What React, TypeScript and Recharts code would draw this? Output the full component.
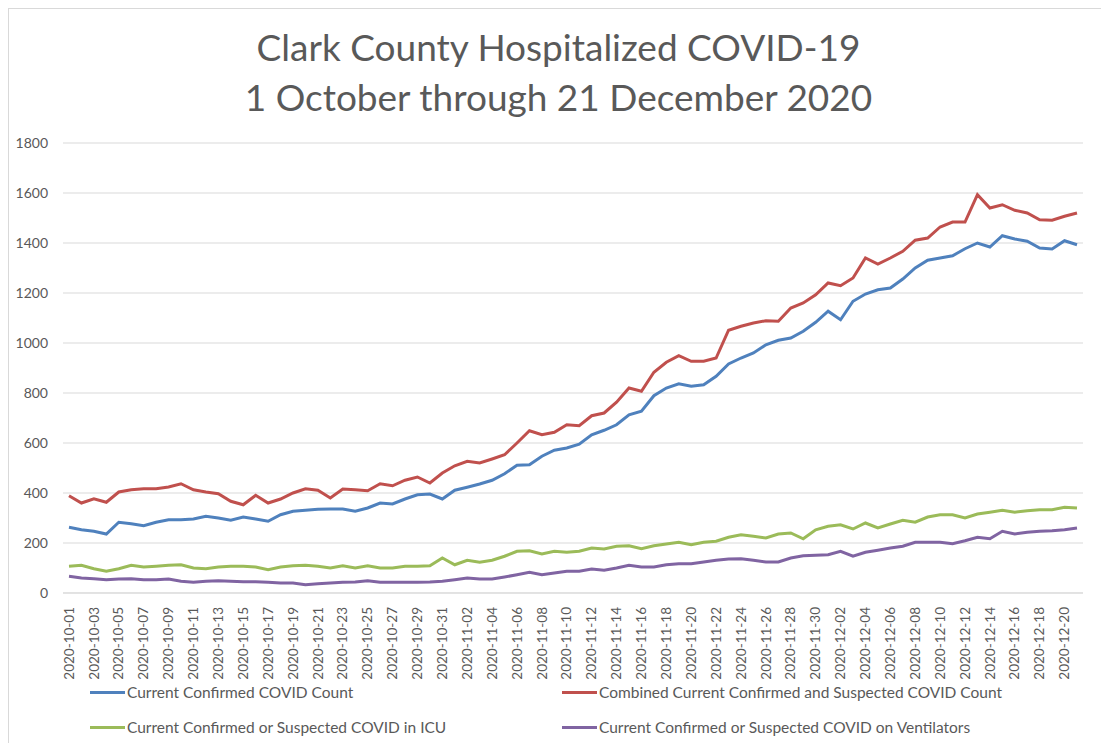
import React from "react";
import { LineChart, Line, XAxis, YAxis, CartesianGrid, Legend } from "recharts";

const dates: string[] = [
  "2020-10-01","2020-10-02","2020-10-03","2020-10-04","2020-10-05","2020-10-06","2020-10-07","2020-10-08","2020-10-09","2020-10-10",
  "2020-10-11","2020-10-12","2020-10-13","2020-10-14","2020-10-15","2020-10-16","2020-10-17","2020-10-18","2020-10-19","2020-10-20",
  "2020-10-21","2020-10-22","2020-10-23","2020-10-24","2020-10-25","2020-10-26","2020-10-27","2020-10-28","2020-10-29","2020-10-30",
  "2020-10-31",
  "2020-11-01","2020-11-02","2020-11-03","2020-11-04","2020-11-05","2020-11-06","2020-11-07","2020-11-08","2020-11-09","2020-11-10",
  "2020-11-11","2020-11-12","2020-11-13","2020-11-14","2020-11-15","2020-11-16","2020-11-17","2020-11-18","2020-11-19","2020-11-20",
  "2020-11-21","2020-11-22","2020-11-23","2020-11-24","2020-11-25","2020-11-26","2020-11-27","2020-11-28","2020-11-29","2020-11-30",
  "2020-12-01","2020-12-02","2020-12-03","2020-12-04","2020-12-05","2020-12-06","2020-12-07","2020-12-08","2020-12-09","2020-12-10",
  "2020-12-11","2020-12-12","2020-12-13","2020-12-14","2020-12-15","2020-12-16","2020-12-17","2020-12-18","2020-12-19","2020-12-20",
  "2020-12-21",
];

const confirmed: number[] = [
  263,253,247,236,283,277,269,283,293,293,
  296,307,300,291,304,296,287,313,327,331,
  335,336,336,327,340,360,356,376,393,396,
  376,
  411,423,436,451,477,511,513,547,571,580,
  595,633,651,673,713,727,789,820,837,827,
  833,867,916,940,960,993,1011,1020,1047,1083,
  1127,1093,1167,1196,1213,1220,1256,1300,1331,1340,
  1349,1377,1400,1384,1429,1416,1407,1380,1376,1409,
  1393,
];

const combined: number[] = [
  389,360,377,363,404,413,417,417,424,437,
  413,404,397,367,353,391,360,376,400,417,
  411,380,416,413,409,437,429,451,464,440,
  480,
  509,527,520,536,553,600,649,633,643,673,
  669,709,720,763,820,807,883,923,949,927,
  927,940,1051,1067,1080,1089,1087,1140,1160,1193,
  1240,1229,1260,1340,1316,1340,1367,1411,1420,1464,
  1484,1484,1593,1540,1553,1531,1520,1493,1491,1507,
  1520,
];

const icu: number[] = [
  107,111,97,87,97,111,104,107,111,113,
  100,97,104,107,107,104,93,104,109,111,
  107,100,109,100,109,100,100,107,107,109,
  140,
  113,131,123,131,147,167,169,156,167,163,
  167,180,176,187,189,177,189,196,203,193,
  203,207,223,233,227,220,236,240,217,253,
  267,273,256,280,260,276,291,283,304,313,
  313,300,316,323,331,323,329,333,333,343,
  340,
];

const ventilators: number[] = [
  67,60,57,53,56,57,53,53,56,47,
  43,47,49,47,45,45,43,40,40,33,
  37,40,43,44,49,43,43,43,43,44,
  47,
  53,60,56,56,64,73,83,73,80,87,
  87,96,91,100,111,104,104,113,117,117,
  124,131,136,137,131,124,124,140,149,151,
  153,167,147,163,171,180,187,203,203,203,
  197,209,223,217,247,236,243,247,249,253,
  260,
];

const yTicks: number[] = [0, 200, 400, 600, 800, 1000, 1200, 1400, 1600, 1800];

const seriesInfo = [
  { key: "confirmed", name: "Current Confirmed COVID Count", color: "#4F81BD" },
  { key: "combined", name: "Combined Current Confirmed and Suspected COVID Count", color: "#C0504D" },
  { key: "icu", name: "Current Confirmed or Suspected COVID in ICU", color: "#9BBB59" },
  { key: "ventilators", name: "Current Confirmed or Suspected COVID on Ventilators", color: "#8064A2" },
];

const data = dates.map((d, i) => ({
  date: d,
  confirmed: confirmed[i],
  combined: combined[i],
  icu: icu[i],
  ventilators: ventilators[i],
}));

const FONT = "Lato, 'Open Sans', sans-serif";
const TEXT = "#595959";

const XTick = (props: any) => {
  const { x, y, payload } = props;
  const ty = y + 6;
  return (
    <text
      x={x}
      y={ty}
      transform={`rotate(-90 ${x} ${ty})`}
      textAnchor="end"
      dy="0.35em"
      fill={TEXT}
      fontSize={13.5}
      fontFamily={FONT}
    >
      {payload.value}
    </text>
  );
};

const LegendContent = () => {
  const cols = [82, 554];
  const rows = [19, 54];
  return (
    <div style={{ position: "relative", width: 1101, height: 70, fontFamily: FONT }}>
      {seriesInfo.map((s, i) => {
        const left = cols[i % 2];
        const top = rows[Math.floor(i / 2)];
        return (
          <div
            key={s.key}
            style={{
              position: "absolute",
              left,
              top: top - 10,
              height: 20,
              display: "flex",
              alignItems: "center",
              whiteSpace: "nowrap",
            }}
          >
            <div style={{ width: 35, height: 3, background: s.color, marginRight: 2 }} />
            <span style={{ fontSize: 15.5, color: TEXT }}>{s.name}</span>
          </div>
        );
      })}
    </div>
  );
};

export default function App() {
  return (
    <div
      style={{
        position: "relative",
        width: 1101,
        height: 735,
        boxShadow: "inset 1px 1px 0 #d9d9d9",
        background: "#fff",
      }}
    >
      <div
        style={{
          position: "absolute",
          top: 14,
          left: 0,
          width: 1101,
          textAlign: "center",
          fontFamily: FONT,
          fontSize: 37,
          lineHeight: "50px",
          color: TEXT,
          zIndex: 2,
          pointerEvents: "none",
        }}
      >
        <div>Clark County Hospitalized COVID-19</div>
        <div>1 October through 21 December 2020</div>
      </div>
      <LineChart
        width={1101}
        height={735}
        data={data}
        margin={{ top: 135, right: 26, left: 0, bottom: 0 }}
      >
        <CartesianGrid vertical={false} stroke="#d9d9d9" strokeWidth={1} />
        <XAxis
          dataKey="date"
          interval={1}
          tick={<XTick />}
          tickLine={false}
          axisLine={{ stroke: "#d9d9d9" }}
          height={80}
          padding={{ left: 6, right: 6 }}
        />
        <YAxis
          domain={[0, 1800]}
          ticks={yTicks}
          width={55}
          axisLine={false}
          tickLine={false}
          tickSize={0}
          tickMargin={15}
          tick={{ fill: TEXT, fontSize: 14, fontFamily: FONT }}
        />
        <Legend
          verticalAlign="bottom"
          content={<LegendContent />}
          wrapperStyle={{ left: 0, width: 1101, height: 70 }}
        />
        {seriesInfo.map((s) => (
          <Line
            key={s.key}
            type="linear"
            dataKey={s.key}
            name={s.name}
            stroke={s.color}
            strokeWidth={3}
            dot={false}
            isAnimationActive={false}
          />
        ))}
      </LineChart>
    </div>
  );
}
